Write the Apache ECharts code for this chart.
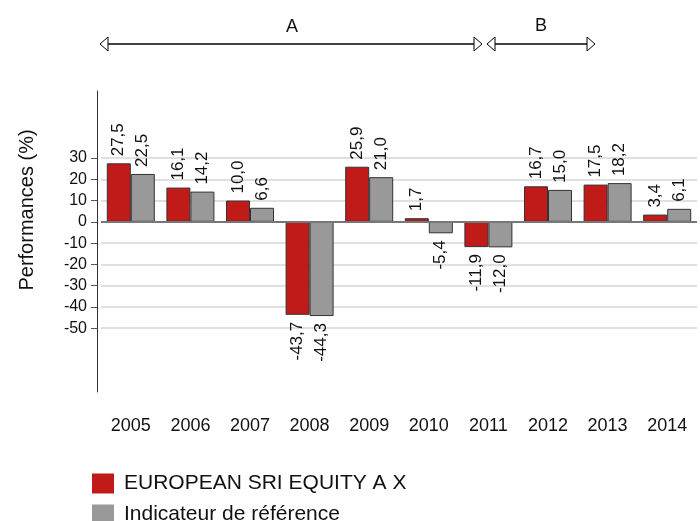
<!DOCTYPE html>
<html lang="fr">
<head>
    <meta charset="UTF-8">
    <title>Performances annuelles</title>
    <style>
        html, body { margin: 0; padding: 0; background: #fff; }
    </style>
</head>
<body>
<div id="main" style="width: 700px;height:521px;"></div>
<script src="https://cdn.jsdelivr.net/npm/echarts@6/dist/echarts.min.js"></script>

<script>
    // données
    var years = ['2005', '2006', '2007', '2008', '2009', '2010', '2011', '2012', '2013', '2014'];
    var fundValues = [27.5, 16.1, 10.0, -43.7, 25.9, 1.7, -11.9, 16.7, 17.5, 3.4];
    var benchValues = [22.5, 14.2, 6.6, -44.3, 21.0, -5.4, -12.0, 15.0, 18.2, 6.1];
    var yTicks = [-50, -40, -30, -20, -10, 0, 10, 20, 30];
    var fundName = 'EUROPEAN SRI EQUITY A X';
    var benchName = 'Indicateur de référence';

    var font = 'Arial, "Liberation Sans", sans-serif';

    function fmt(v) {
        return v.toFixed(1).replace('.', ',');
    }

    // étiquettes verticales : au-dessus si positif, en dessous si négatif
    function withLabels(values) {
        return values.map(function (v) {
            var pos = v >= 0;
            return {
                value: v,
                label: {
                    position: pos ? 'top' : 'bottom',
                    align: pos ? 'left' : 'right',
                    verticalAlign: 'middle'
                }
            };
        });
    }

    var barLabel = {
        show: true,
        rotate: 90,
        distance: 7,
        fontSize: 17,
        fontFamily: font,
        color: '#111',
        formatter: function (p) { return fmt(p.value); }
    };

    function legendItem(name, top) {
        return {
            data: [name],
            left: 87,
            top: top,
            itemWidth: 22,
            itemHeight: 20,
            icon: 'rect',
            itemStyle: {borderWidth: 0},
            textStyle: {fontSize: 21, fontFamily: font, color: '#111', padding: [0, 0, 0, 5]}
        };
    }

    var myChart = echarts.init(document.getElementById('main'));
    var option = {
        animation: false,
        grid: {left: 101, right: 3, top: 91, bottom: 129},
        legend: [legendItem(fundName, 468), legendItem(benchName, 499)],
        xAxis: {
            type: 'category',
            data: years,
            axisLine: {show: false, onZero: false},
            axisTick: {show: false},
            axisLabel: {fontSize: 18, fontFamily: font, color: '#111', margin: 25}
        },
        yAxis: {
            type: 'value',
            min: -80,
            max: 61.5,
            offset: 4,
            axisLine: {show: true, lineStyle: {color: '#333', width: 1}},
            axisTick: {show: true, length: 6, customValues: yTicks, lineStyle: {color: '#555'}},
            axisLabel: {customValues: yTicks, fontSize: 16, fontFamily: font, color: '#111', margin: 10},
            splitLine: {show: true, lineStyle: {color: '#d6d6d6', width: 1.5}}
        },
        graphic: [
            {
                type: 'text', x: 27, y: 210, rotation: Math.PI / 2,
                style: {text: 'Performances (%)', fontSize: 20, fontFamily: font, fill: '#111',
                        align: 'center', verticalAlign: 'middle'}
            },
            {type: 'line', shape: {x1: 106, y1: 44, x2: 476, y2: 44}, style: {stroke: '#000', lineWidth: 1.5}},
            {type: 'polygon', shape: {points: [[100, 44], [108, 37], [108, 51]]}, style: {fill: '#fff', stroke: '#000', lineWidth: 1}},
            {type: 'polygon', shape: {points: [[482, 44], [474, 37], [474, 51]]}, style: {fill: '#fff', stroke: '#000', lineWidth: 1}},
            {type: 'line', shape: {x1: 493, y1: 44, x2: 589, y2: 44}, style: {stroke: '#000', lineWidth: 1.5}},
            {type: 'polygon', shape: {points: [[487, 44], [495, 37], [495, 51]]}, style: {fill: '#fff', stroke: '#000', lineWidth: 1}},
            {type: 'polygon', shape: {points: [[595, 44], [587, 37], [587, 51]]}, style: {fill: '#fff', stroke: '#000', lineWidth: 1}},
            {type: 'text', x: 292, y: 27, style: {text: 'A', fontSize: 18, fontFamily: font, fill: '#111', align: 'center', verticalAlign: 'middle'}},
            {type: 'text', x: 541, y: 26, style: {text: 'B', fontSize: 18, fontFamily: font, fill: '#111', align: 'center', verticalAlign: 'middle'}}
        ],
        series: [
            {
                name: fundName,
                type: 'bar',
                barWidth: 24,
                barGap: 0,
                itemStyle: {color: '#c01a19', borderColor: '#333', borderWidth: 1},
                label: barLabel,
                data: withLabels(fundValues),
                markLine: {
                    silent: true,
                    symbol: 'none',
                    label: {show: false},
                    lineStyle: {color: '#777', width: 2, type: 'solid'},
                    data: [{yAxis: 0}]
                }
            },
            {
                name: benchName,
                type: 'bar',
                barWidth: 24,
                barGap: 0,
                itemStyle: {color: '#999999', borderColor: '#333', borderWidth: 1},
                label: barLabel,
                data: withLabels(benchValues)
            }
        ]
    };

    myChart.setOption(option);
</script>

</body>
</html>
